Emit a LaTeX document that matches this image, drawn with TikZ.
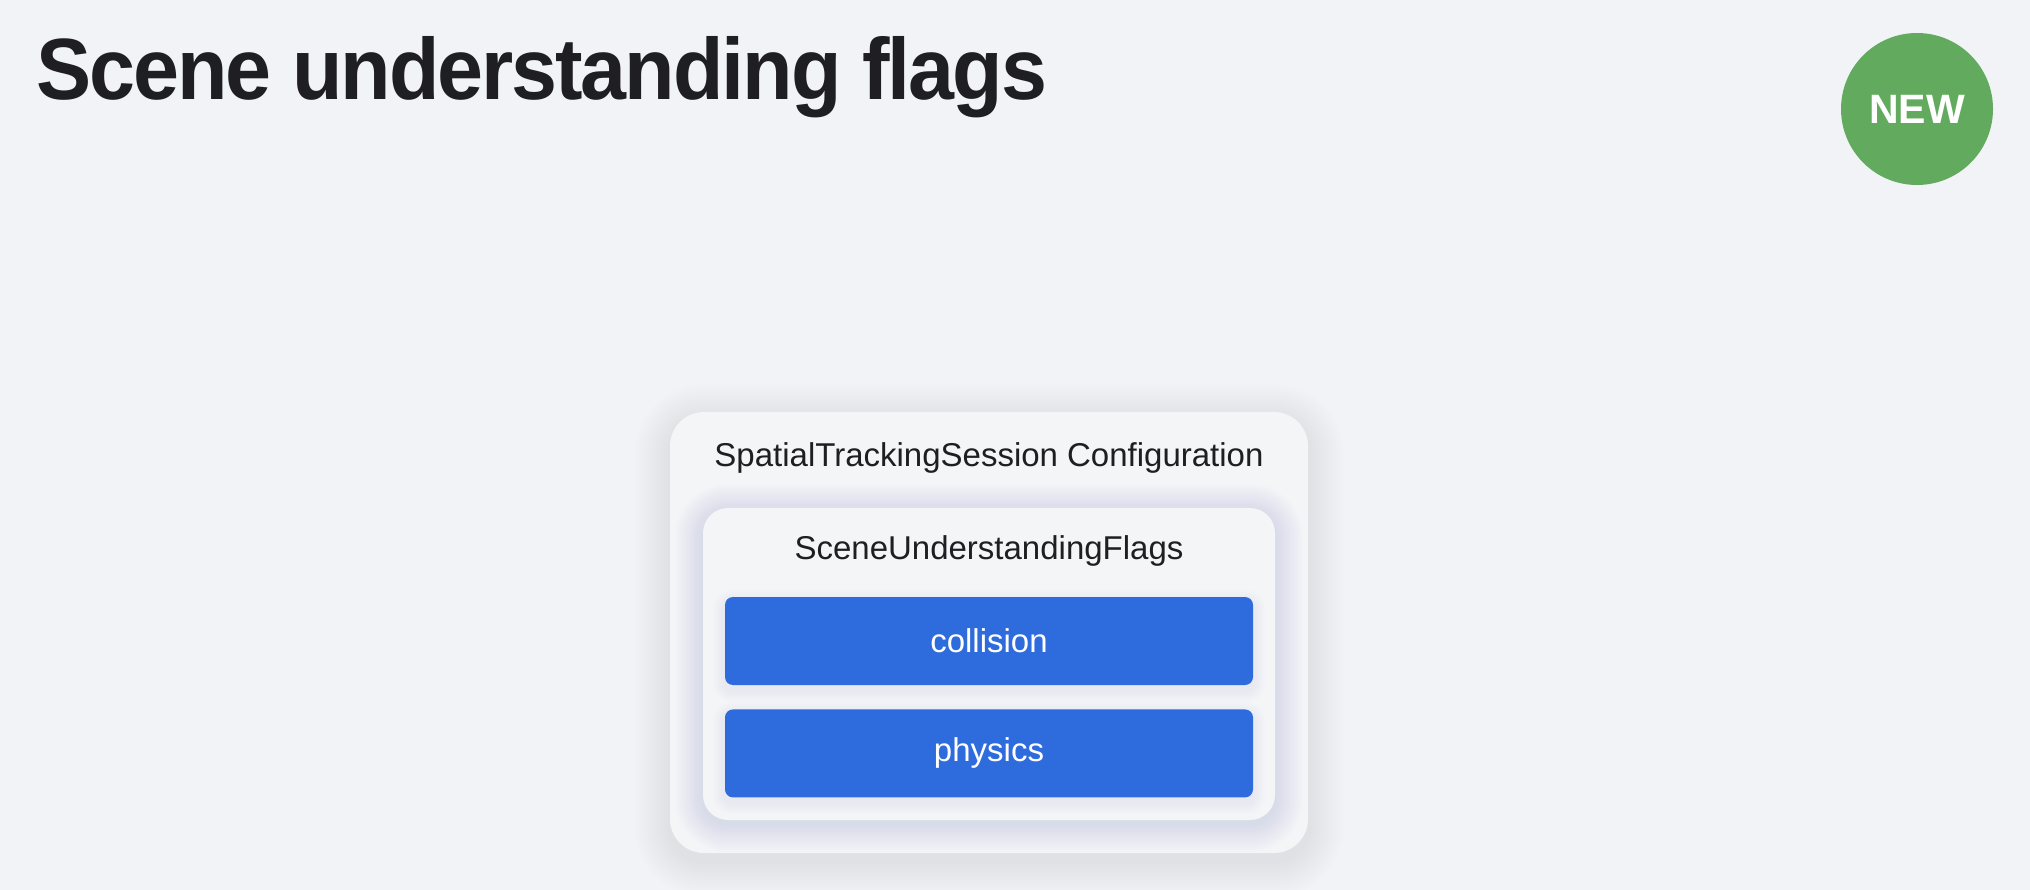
\documentclass[tikz,border=0pt]{standalone}
\usepackage{fontspec}
\setmainfont{Liberation Sans}
\newfontfamily\headingfont[LetterSpace=-2.5]{Liberation Sans Bold}
\usetikzlibrary{positioning}

\definecolor{bgcol}{HTML}{F2F3F6}
\definecolor{panelcol}{HTML}{F4F5F7}
\definecolor{flagblue}{HTML}{2E6BDD}
\definecolor{badgegreen}{HTML}{62AB5E}
\definecolor{inkcol}{HTML}{1F1F23}
\definecolor{glowblue}{HTML}{5B8BE6}

\pgfdeclarelayer{panels}
\pgfdeclarelayer{glow}
\pgfsetlayers{panels,glow,main}

\begin{document}
\begin{tikzpicture}[x=1pt,y=-1pt,
  panel/.style={rectangle, fill=panelcol, inner sep=0pt},
  flag/.style={rectangle, rounded corners=8pt, fill=flagblue, text=white,
    minimum width=528pt, minimum height=88pt, inner sep=0pt,
    font=\fontsize{33}{40}\selectfont},
  caption/.style={anchor=base, text=inkcol, font=\fontsize{33}{40}\selectfont}]

  \begin{pgfonlayer}{panels}
  % background and picture size
  \fill[bgcol] (0,0) rectangle (2030,890);
  \useasboundingbox (0,0) rectangle (2030,890);

  % outer panel: configuration
  \coordinate (config nw) at (670,412);
  \coordinate (config se) at (1308,853);
  \foreach \s in {2,4,...,36}
    \fill[black, opacity=0.005, rounded corners=34pt+\s pt]
      ([xshift=-\s pt, yshift=\s pt-8pt]config nw) rectangle ([xshift=\s pt, yshift=-\s pt-8pt]config se);
  \node[panel, rounded corners=34pt, minimum width=638pt, minimum height=441pt]
    (config) at (989,632.5) {};

  % inner panel: flags
  \coordinate (flags nw) at (703,508);
  \coordinate (flags se) at (1275,820);
  \foreach \s in {2,4,...,28}
    \fill[glowblue, opacity=0.01, rounded corners=25pt+\s pt]
      ([xshift=-\s pt, yshift=\s pt-4pt]flags nw) rectangle ([xshift=\s pt, yshift=-\s pt-4pt]flags se);
  \node[panel, rounded corners=25pt, minimum width=572pt, minimum height=312pt]
    (flags) at (989,664) {};
  \end{pgfonlayer}

  % heading and badge
  \node[anchor=base west, inner sep=0pt, text=inkcol,
    font=\headingfont\fontsize{87}{100}\selectfont] (title) at (36,100)
    {\scalebox{0.95}[1]{Scene understanding flags}};
  \node[circle, fill=badgegreen, minimum size=152pt, inner sep=0pt, text=white,
    font=\bfseries\fontsize{41}{48}\selectfont] (new) at (1917,109) {NEW};

  \node[caption] (config text) at ([yshift=-55pt]config.north) {SpatialTrackingSession Configuration};
  \node[caption] (flags text) at ([yshift=-52pt]flags.north) {SceneUnderstandingFlags};

  % flag buttons
  \node[flag] (collision) at (989,641) {collision};
  \node[flag, below=24pt of collision] (physics) {physics};

  \begin{pgfonlayer}{glow}
  \foreach \b in {collision,physics}
    \foreach \s in {2,4,...,12}
      \fill[glowblue, opacity=0.012, rounded corners=8pt+\s pt]
        ([xshift=-\s pt, yshift=\s pt-5pt]\b.north west) rectangle ([xshift=\s pt, yshift=-\s pt-5pt]\b.south east);
  \end{pgfonlayer}
\end{tikzpicture}
\end{document}
